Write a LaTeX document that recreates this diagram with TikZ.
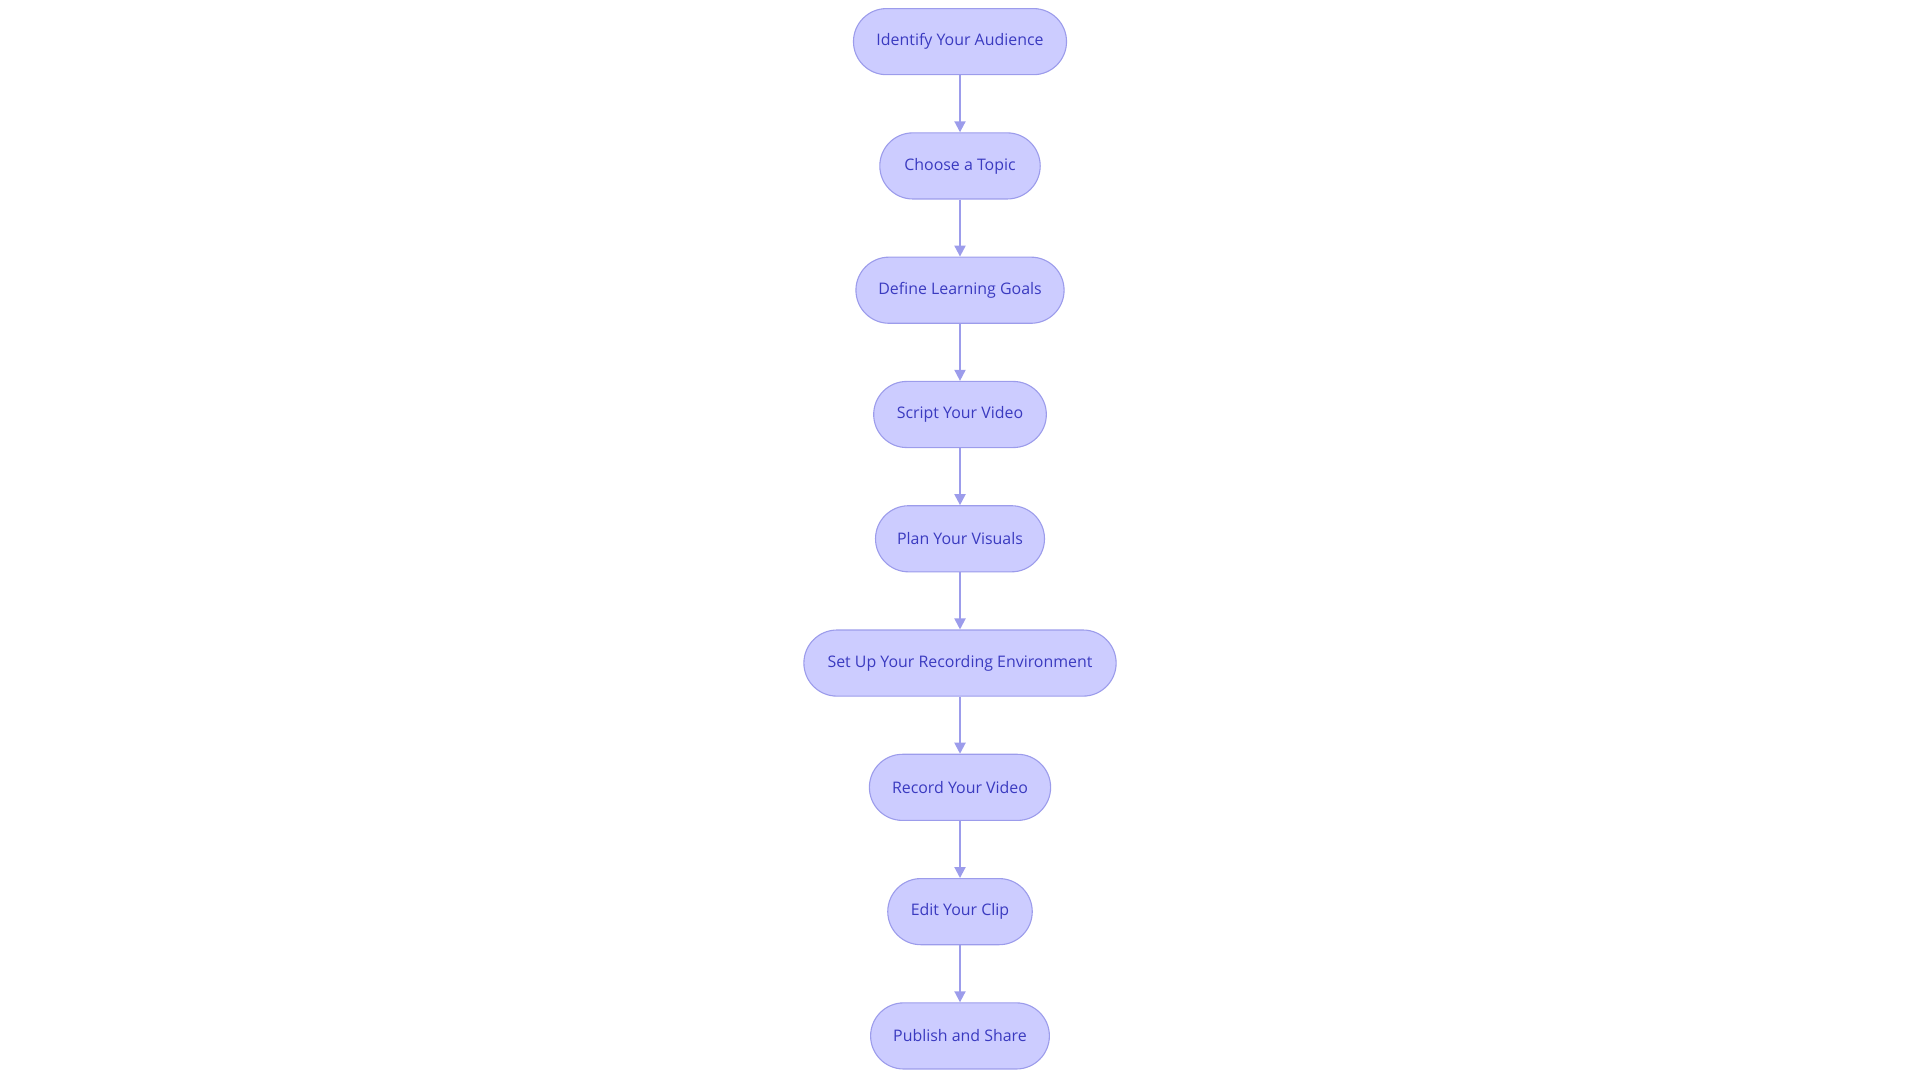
\documentclass[tikz,border=0pt]{standalone}
\usepackage{fontspec}
\setmainfont{Open Sans}
\usetikzlibrary{arrows.meta}
\definecolor{nfill}{HTML}{CCCCFF}
\definecolor{nline}{HTML}{9C9CEB}
\definecolor{ntext}{HTML}{3A3AC0}
\tikzset{
 stepbox/.style={draw=nline, fill=nfill, line width=0.9pt, rounded corners=27pt, minimum height=54pt, text=ntext, font=\fontsize{13}{16}\selectfont, inner sep=0pt},
 conn/.style={draw=nline, line width=1.6pt, -{Triangle[length=9pt,width=9pt]}}
}
\begin{document}
\begin{tikzpicture}[x=1pt,y=-1pt]
\useasboundingbox (0,0) rectangle (1568,884);
\node[stepbox, minimum width=174pt] (a) at (784,34) {Identify Your Audience};
\node[stepbox, minimum width=131pt] (b) at (784,135.5) {Choose a Topic};
\node[stepbox, minimum width=170pt] (c) at (784,237) {Define Learning Goals};
\node[stepbox, minimum width=141pt] (d) at (784,338.5) {Script Your Video};
\node[stepbox, minimum width=138pt] (e) at (784,440) {Plan Your Visuals};
\node[stepbox, minimum width=255pt] (f) at (784,541.5) {Set Up Your Recording Environment};
\node[stepbox, minimum width=148pt] (g) at (784,643) {Record Your Video};
\node[stepbox, minimum width=118pt] (h) at (784,744.5) {Edit Your Clip};
\node[stepbox, minimum width=146pt] (i) at (784,846) {Publish and Share};
\foreach \u/\v in {a/b,b/c,c/d,d/e,e/f,f/g,g/h,h/i}
  \draw[conn] (\u) -- (\v);
\end{tikzpicture}
\end{document}
